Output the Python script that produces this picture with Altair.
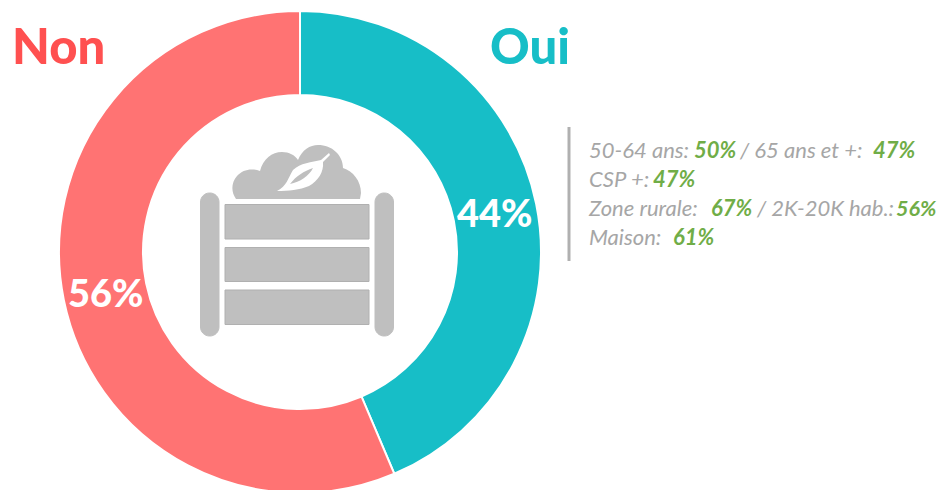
import altair as alt
import pandas as pd

# Slice boundary (labels are rounded)
answers = ["Oui", "Non"]
shares = [43.6, 56.4]
share_labels = ["44%", "56%"]
colors = ["#17BEC7", "#FF7373"]
heading_colors = ["#17BEC7", "#FF5050"]

GREY = "#A6A6A6"
GREEN = "#70AD47"
ICON = "#BFBFBF"
ICON_EDGE = "#B0B0B0"
FONT = "Lato"

dummy = pd.DataFrame({"d": [0]})
df = pd.DataFrame({"answer": answers, "share": shares, "o": [0, 1]})


def px(v):
    return alt.value(v - 8)


def text(s, x, y, size, color, bold=False, italic=False, weight=None):
    kw = {}
    if italic:
        kw["fontStyle"] = "italic"
    return (
        alt.Chart(dummy)
        .mark_text(text=s, font=FONT, fontSize=size, color=color,
                   fontWeight=weight if weight else ("bold" if bold else "normal"),
                   align="left", baseline="alphabetic", **kw)
        .encode(x=px(x), y=px(y))
    )


def rect(x0, x1, y0, y1, radius=0):
    return (
        alt.Chart(dummy)
        .mark_rect(fill=ICON, stroke=ICON_EDGE if radius == 0 else ICON,
                   strokeWidth=1, cornerRadius=radius)
        .encode(x=px(x0), x2=px(x1), y=px(y0), y2=px(y1))
    )


def shape(path, fill):
    # size 4 gives a custom path a scale of 1, so it is drawn in page pixels
    return (
        alt.Chart(dummy)
        .mark_point(shape=path, size=4, filled=True, fill=fill, opacity=1, strokeWidth=0)
        .encode(x=alt.value(-8), y=alt.value(-8))
    )


donut = (
    alt.Chart(df)
    .mark_arc(radius=241, radius2=157, stroke="white", strokeWidth=2)
    .encode(
        theta=alt.Theta("share:Q", stack=True, scale=alt.Scale(domain=[0, 100], range=[0, 6.28318530718])),
        order=alt.Order("o:Q"),
        color=alt.Color("answer:N", scale=alt.Scale(domain=answers, range=colors), legend=None),
        x=px(300),
        y=px(252),
    )
)

CLOUD = ("M236 199 C231 192 231 183 237 176 C243 169 252 168 260 171 C263 159 272 152 282 152 "
         "C289 152 295 155 298 160 C302 150 310 145 318 145 C332 145 343 155 343 168 "
         "C353 171 361 181 361 193 L360 199 Z")
LEAF = ("M277 191 C287 186 288 178 293 170 C300 163 312 162 321 160 L329 153 L330 155 L323 162 "
        "C324 172 318 181 309 186 C300 190 288 191 277 191 Z")
SLIT = "M290 184 C296 176 304 171 313 168 C309 176 300 182 290 184 Z"

icon = [
    shape(CLOUD, ICON),
    shape(LEAF, "white"),
    shape(SLIT, ICON),
    rect(200.5, 219, 193, 336, 9),
    rect(375, 393.5, 193, 336, 9),
    rect(225, 369, 204.5, 239),
    rect(225, 369, 247.5, 281.5),
    rect(225, 369, 290, 324.5),
]

rule = (
    alt.Chart(dummy)
    .mark_rule(color="#B0B0B0", strokeWidth=3)
    .encode(x=px(569), y=px(127), y2=px(261))
)

labels = [
    text("Non", 12, 64, 49, heading_colors[1], weight=900),
    text("Oui", 490, 64, 49, heading_colors[0], weight=900),
    text(share_labels[0], 457, 227, 38, "white", weight=900),
    text(share_labels[1], 68, 307, 38, "white", weight=900),
]

GS = 22
BS = 22
notes = [
    text("50-64 ans:", 589, 158, GS, GREY, italic=True),
    text("50%", 694, 158, BS, GREEN, bold=True, italic=True),
    text("/ 65 ans et +:", 740, 158, GS, GREY, italic=True),
    text("47%", 873, 158, BS, GREEN, bold=True, italic=True),
    text("CSP +:", 589, 187, GS, GREY, italic=True),
    text("47%", 653, 187, BS, GREEN, bold=True, italic=True),
    text("Zone rurale:", 589, 216, GS, GREY, italic=True),
    text("67%", 711, 216, BS, GREEN, bold=True, italic=True),
    text("/ 2K-20K hab.:", 757, 216, GS, GREY, italic=True),
    text("56%", 896, 216, 21.5, GREEN, bold=True, italic=True),
    text("Maison:", 589, 245, GS, GREY, italic=True),
    text("61%", 673, 245, BS, GREEN, bold=True, italic=True),
]

chart = (
    alt.layer(donut, *icon, rule, *labels, *notes)
    .properties(width=930, height=482, padding=0, autosize=alt.AutoSizeParams(type="none"), background="white")
    .configure_view(stroke=None)
)

chart.save("out.html", embed_options={"renderer": "svg", "actions": False})
